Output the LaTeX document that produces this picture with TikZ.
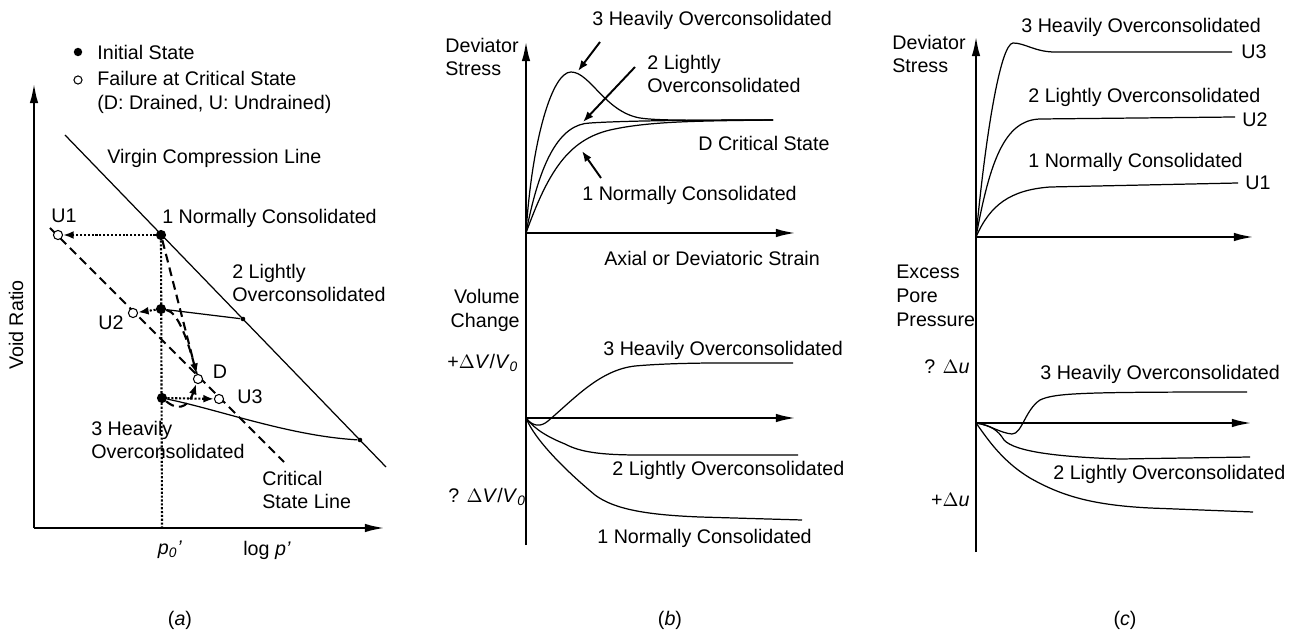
\documentclass[tikz,border=0pt]{standalone}
\usepackage{fontspec}
\setmainfont{Liberation Sans}
\usetikzlibrary{arrows.meta}
\newcommand{\lblfont}{\fontsize{11.2}{13.6}\selectfont}

\begin{document}
\begin{tikzpicture}[x=0.02cm, y=-0.02cm,
    every node/.style={font=\lblfont, inner sep=0pt},
    txt/.style={anchor=west, align=left},
    axis/.style={line width=1.6pt, -{Latex[length=12pt,width=4.8pt]}},
    curve/.style={line width=0.7pt},
    pointer/.style={line width=1.1pt, -{Latex[length=6pt,width=4.5pt]}},
    dotarrow/.style={line width=1.2pt, densely dotted, -{Latex[length=6pt,width=4.5pt]}},
    dasharrow/.style={line width=1.2pt, dash pattern=on 5pt off 3pt, -{Latex[length=6pt,width=4.5pt]}},
    state/.style={circle, fill, minimum size=5.8pt},
    ring/.style={circle, draw, fill=white, line width=0.6pt, minimum size=5.2pt},
    knee/.style={circle, fill, minimum size=2.6pt}
    ]
    \useasboundingbox (0,0) rectangle (1298,638);

    % (a) void ratio against log p'
    \node[state, minimum size=4.8pt] (legfill) at (78,52) {};
    \node[txt] (legi) at (97,52) {Initial State};
    \node[ring, minimum size=4.6pt] (legring) at (78,80) {};
    \node[txt] (legf) at (97,92) {Failure at Critical State\\(D: Drained, U: Undrained)};

    \coordinate (ao) at (34,528);
    \coordinate (atop) at (34,82);
    \coordinate (aright) at (386,528);
    \draw[axis] (ao) -- (atop);
    \draw[axis] (ao) -- (aright);
    \node[rotate=90] (vr) at (16,325) {Void Ratio};

    \coordinate (vcla) at (65,135);
    \coordinate (vclb) at (386,467);
    \coordinate (csla) at (50,228);
    \coordinate (cslb) at (284,462);
    \coordinate (p0) at (162,528);
    \draw[curve] (vcla) -- (vclb);
    \draw[line width=1.2pt, dash pattern=on 5pt off 3pt] (csla) -- (cslb);
    \node[txt] (vcl) at (107,158) {Virgin Compression Line};
    \node[txt] (csl) at (262,490) {Critical\\State Line};

    \node[state] (s1) at (161,235) {};
    \node[state] (s2) at (161,309) {};
    \node[state] (s3) at (162,398) {};
    \node[knee] (k2) at (243,319) {};
    \node[knee] (k3) at (360,440) {};
    \node[ring] (u1) at (58,235) {};
    \node[ring] (u2) at (133,313) {};
    \node[ring] (u3) at (219,399) {};
    \node[ring] (dd) at (198,379) {};

    \draw[line width=1.2pt, densely dotted] (s1) -- (p0);
    \draw[curve] (k2) -- (s2);
    \draw[curve] (k3) .. controls (290,436) and (220,410) .. (s3);
    \draw[dotarrow] (s1) -- (u1);
    \draw[dotarrow] (s2) -- (u2);
    \draw[dotarrow] (s3) -- (u3);
    \draw[dasharrow] (s1) -- (dd);
    \draw[line width=1.2pt, dash pattern=on 5pt off 3pt] (s2) .. controls (178,312) and (188,340) .. (dd);
    \draw[dasharrow] (s3) .. controls (182,414) and (190,402) .. (dd);

    \node[txt] (l1) at (162,218) {1 Normally Consolidated};
    \node[txt] (l2) at (232,283) {2 Lightly\\Overconsolidated};
    \node[txt] (l3) at (91,440) {3 Heavily\\Overconsolidated};
    \node (lu1) at (64,216) {U1};
    \node (lu2) at (111,323) {U2};
    \node (lu3) at (250,397) {U3};
    \node (ld) at (220,372) {D};
    \node (lp0) at (170,550) {\textit{p}\textsubscript{\textit{0}}\textit{'}};
    \node (llogp) at (267,550) {log \textit{p'}};
    \node (capa) at (180,620) {(\textit{a})};

    % (b) drained tests
    \coordinate (bo) at (526,233);
    \coordinate (bo2) at (526,418);
    \coordinate (btop) at (526,40);
    \coordinate (bbot) at (526,545);
    \coordinate (bx1) at (797,233);
    \coordinate (bx2) at (797,418);
    \draw[axis] (bbot) -- (btop);
    \draw[axis] (bo) -- (bx1);
    \draw[axis] (bo2) -- (bx2);

    \draw[curve] (bo) .. controls (532,140) and (552,72) .. (571,72)
      .. controls (590,72) and (605,112) .. (640,118)
      .. controls (660,121) and (700,120) .. (773,120);
    \draw[curve] (bo) .. controls (540,160) and (560,124) .. (590,123)
      .. controls (620,121) and (680,120) .. (773,120);
    \draw[curve] (bo) .. controls (548,172) and (568,140) .. (610,130)
      .. controls (650,121) and (700,121) .. (773,120);

    \draw[curve] (bo2) .. controls (533,427) and (541,427) .. (548,421)
      .. controls (575,398) and (600,370) .. (635,366)
      .. controls (680,362) and (740,363) .. (793,363);
    \draw[curve] (bo2) .. controls (535,430) and (550,438) .. (565,444)
      .. controls (580,452) and (600,455) .. (640,455) -- (798,455);
    \draw[curve] (bo2) .. controls (535,440) and (565,470) .. (595,495)
      .. controls (615,510) and (650,515) .. (700,517) -- (802,520);

    \coordinate (pt3a) at (600,42);
    \coordinate (pt3b) at (578,71);
    \coordinate (pt2a) at (635,67);
    \coordinate (pt2b) at (583,122);
    \coordinate (pt1a) at (601,178);
    \coordinate (pt1b) at (582,151);
    \draw[pointer] (pt3a) -- (pt3b);
    \draw[pointer] (pt2a) -- (pt2b);
    \draw[pointer] (pt1a) -- (pt1b);

    \node[txt] (bds) at (445,57) {Deviator\\Stress};
    \node[txt] (bh) at (592,20) {3 Heavily Overconsolidated};
    \node[txt] (bl) at (647,74) {2 Lightly\\Overconsolidated};
    \node[txt] (bcs) at (698,143) {D Critical State};
    \node[txt] (bn) at (582,195) {1 Normally Consolidated};
    \node[txt] (bstrain) at (604,258) {Axial or Deviatoric Strain};
    \node[anchor=east, align=right] (bvc) at (520,310) {Volume\\Change};
    \node[txt] (bplus) at (447,363) {+$\Delta$\textit{V}/\textit{V}\textsubscript{\textit{0}}};
    \node[txt] (bminus) at (448,497) {? $\Delta$\textit{V}/\textit{V}\textsubscript{\textit{0}}};
    \node[txt] (bh2) at (603,350) {3 Heavily Overconsolidated};
    \node[txt] (bl2) at (612,470) {2 Lightly Overconsolidated};
    \node[txt] (bn2) at (597,538) {1 Normally Consolidated};
    \node (capb) at (670,620) {(\textit{b})};

    % (c) undrained tests
    \coordinate (co) at (976,237);
    \coordinate (co2) at (976,423);
    \coordinate (ctop) at (976,35);
    \coordinate (cbot) at (976,552);
    \coordinate (cx1) at (1255,237);
    \coordinate (cx2) at (1253,423);
    \draw[axis] (cbot) -- (ctop);
    \draw[axis] (co) -- (cx1);
    \draw[axis] (co2) -- (cx2);

    \draw[curve] (co) .. controls (985,140) and (1000,44) .. (1013,43)
      .. controls (1025,43) and (1035,52) .. (1055,52) -- (1232,52);
    \draw[curve] (co) .. controls (990,160) and (1005,120) .. (1040,119) -- (1235,117);
    \draw[curve] (co) .. controls (990,205) and (1010,190) .. (1050,187) -- (1238,183);

    \draw[curve] (co2) .. controls (990,425) and (1000,433) .. (1012,434)
      .. controls (1022,434) and (1025,410) .. (1040,400)
      .. controls (1055,393) and (1080,392) .. (1247,392);
    \draw[curve] (co2) .. controls (990,425) and (998,430) .. (1004,440)
      .. controls (1015,452) and (1060,457) .. (1120,459) -- (1250,457);
    \draw[curve] (co2) .. controls (985,435) and (1000,460) .. (1030,478)
      .. controls (1060,495) and (1090,505) .. (1150,508) -- (1253,512);

    \node[txt] (cds) at (892,54) {Deviator\\Stress};
    \node[txt] (ch) at (1021,27) {3 Heavily Overconsolidated};
    \node[txt] (cu3) at (1241,52) {U3};
    \node[txt] (cl) at (1028,97) {2 Lightly Overconsolidated};
    \node[txt] (cu2) at (1242,120) {U2};
    \node[txt] (cn) at (1028,162) {1 Normally Consolidated};
    \node[txt] (cu1) at (1245,183) {U1};
    \node[txt] (cepp) at (896,296) {Excess\\Pore\\Pressure};
    \node[anchor=east] (cminus) at (970,367) {? $\Delta$\textit{u}};
    \node[anchor=east] (cplus) at (970,500) {+$\Delta$\textit{u}};
    \node[txt] (ch2) at (1040,374) {3 Heavily Overconsolidated};
    \node[txt] (cl2) at (1053,474) {2 Lightly Overconsolidated};
    \node (capc) at (1125,620) {(\textit{c})};
  \end{tikzpicture}
\end{document}
